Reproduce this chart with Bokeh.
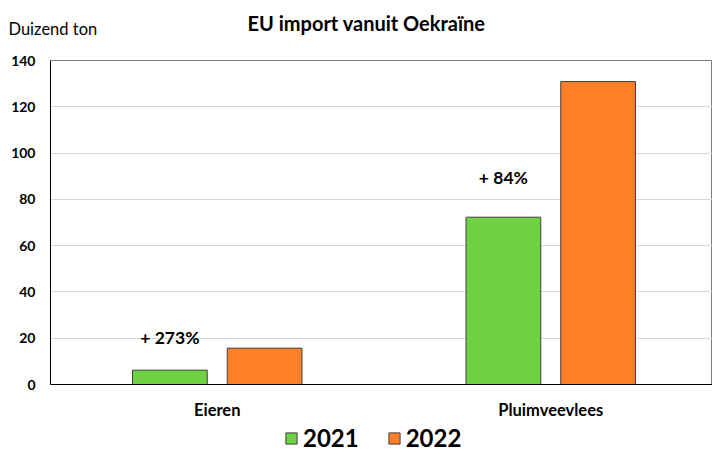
from bokeh.plotting import figure
from bokeh.layouts import column
from bokeh.models import Range1d, FixedTicker, Legend, LegendItem, ColumnDataSource, Label
from bokeh.embed import file_html
from bokeh.resources import INLINE

categories = ["Eieren", "Pluimveevlees"]
years = ["2021", "2022"]
values_2021 = [6.2, 72.3]
values_2022 = [15.7, 130.9]
changes = ["+ 273%", "+ 84%"]
change_y = [20.2, 89.3]
y_ticks = [0, 20, 40, 60, 80, 100, 120, 140]
colors = ["#6fd243", "#fd7f27"]
title_text = "EU import vanuit Oekraïne"
unit_text = "Duizend ton"

FONT = "Lato"
W = 712
centers = [i + 0.5 for i in range(len(categories))]
off = 0.142
bw = 0.224


def bare(fig):
    fig.outline_line_color = None
    fig.xgrid.visible = False
    fig.ygrid.visible = False
    fig.frame_align = False
    return fig


# header strip (title + unit)
h = bare(figure(width=W, height=48, output_backend="svg", toolbar_location=None,
                x_range=Range1d(0, W), y_range=Range1d(0, 48), x_axis_type=None, y_axis_type=None,
                min_border_left=0, min_border_right=0, min_border_top=0, min_border_bottom=0))
h.add_layout(Label(x=366, y=26, text=title_text, text_align="center", text_baseline="middle",
                   text_font=FONT, text_font_style="bold", text_font_size="20px", text_color="#000000"))
h.add_layout(Label(x=8, y=20, text=unit_text, text_align="left", text_baseline="middle",
                   text_font=FONT, text_font_size="16.5px", text_color="#000000"))

# main chart
p = figure(width=W, height=374, output_backend="svg", toolbar_location=None,
           x_range=Range1d(0, 1.985), y_range=Range1d(0, 140),
           min_border_left=50, min_border_right=0, min_border_top=12, min_border_bottom=36)
p.frame_align = False

src = ColumnDataSource(dict(
    x1=[c - off for c in centers], x2=[c + off for c in centers],
    v1=values_2021, v2=values_2022, lab=changes, ly=change_y))

p.vbar(x="x1", top="v1", width=bw, source=src, fill_color=colors[0], line_color="#404040", line_width=1)
p.vbar(x="x2", top="v2", width=bw, source=src, fill_color=colors[1], line_color="#404040", line_width=1)

p.text(x="x1", y="ly", text="lab", source=src, text_align="center", text_baseline="middle",
       text_font={"value": FONT}, text_font_style="bold", text_font_size="17.5px", text_color="#000000")

p.xgrid.visible = False
p.ygrid.grid_line_color = "#d9d9d9"
p.ygrid.ticker = FixedTicker(ticks=y_ticks)
p.outline_line_color = "#808080"

for ax in (p.xaxis, p.yaxis):
    ax.axis_line_color = "#000000"
    ax.major_tick_line_color = None
    ax.minor_tick_line_color = None
    ax.major_tick_out = 0
    ax.major_tick_in = 0
    ax.minor_tick_out = 0
    ax.major_label_text_font = FONT
    ax.major_label_text_font_style = "bold"
    ax.major_label_text_color = "#000000"

p.yaxis.ticker = FixedTicker(ticks=y_ticks)
p.yaxis.major_label_standoff = 15
p.yaxis.major_label_text_font_size = "14px"

p.xaxis.ticker = FixedTicker(ticks=centers)
p.xaxis.major_label_overrides = {c: n for c, n in zip(centers, categories)}
p.xaxis.major_label_standoff = 15
p.xaxis.major_label_text_font_size = "16.5px"

# legend strip
q = bare(figure(width=W, height=30, output_backend="svg", toolbar_location=None,
                x_range=Range1d(0, 1), y_range=Range1d(0, 1), x_axis_type=None, y_axis_type=None,
                min_border_left=0, min_border_right=0, min_border_top=0, min_border_bottom=0))
hidden = ColumnDataSource(dict(x=[5.0], top=[5.0]))
g1 = q.vbar(x="x", top="top", width=0.1, bottom=4.0, source=hidden, fill_color=colors[0], line_color="#404040")
g2 = q.vbar(x="x", top="top", width=0.1, bottom=4.0, source=hidden, fill_color=colors[1], line_color="#404040")
legend = Legend(items=[LegendItem(label=years[0], renderers=[g1]), LegendItem(label=years[1], renderers=[g2])],
                orientation="horizontal", location=(284, 0), border_line_color=None, background_fill_alpha=0,
                glyph_width=14, glyph_height=14, label_text_font=FONT, label_text_font_style="bold",
                label_text_font_size="24px", label_text_color="#000000", label_standoff=5, spacing=28,
                padding=0, margin=0)
q.add_layout(legend, "center")

layout = column(h, p, q, spacing=0)
open("out.html", "w").write(file_html(layout, INLINE))
